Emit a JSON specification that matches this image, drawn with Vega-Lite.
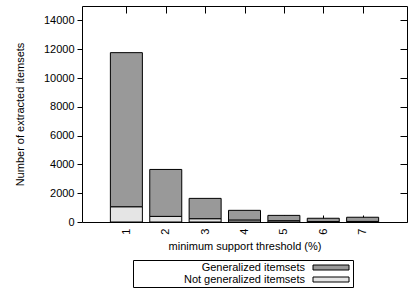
{
  "$schema": "https://vega.github.io/schema/vega-lite/v6.json",
  "width": 325,
  "height": 216,
  "autosize": "none",
  "padding": {"left": 82, "top": 6, "right": 4, "bottom": 74},
  "background": "white",
  "config": {
    "font": "Liberation Sans",
    "view": {"stroke": "black", "strokeWidth": 1},
    "axis": {"domain": false, "grid": false, "labelFont": "Liberation Sans", "labelFontSize": 11, "labelColor": "black", "tickColor": "black", "titleFont": "Liberation Sans", "titleFontSize": 11, "titleFontWeight": "normal", "titleColor": "black"}
  },
  "data": {
    "values": [
      {"t": 1, "series": "Not generalized itemsets", "value": 1060},
      {"t": 1, "series": "Generalized itemsets", "value": 10700},
      {"t": 2, "series": "Not generalized itemsets", "value": 390},
      {"t": 2, "series": "Generalized itemsets", "value": 3260},
      {"t": 3, "series": "Not generalized itemsets", "value": 230},
      {"t": 3, "series": "Generalized itemsets", "value": 1410},
      {"t": 4, "series": "Not generalized itemsets", "value": 140},
      {"t": 4, "series": "Generalized itemsets", "value": 670},
      {"t": 5, "series": "Not generalized itemsets", "value": 90},
      {"t": 5, "series": "Generalized itemsets", "value": 370},
      {"t": 6, "series": "Not generalized itemsets", "value": 30},
      {"t": 6, "series": "Generalized itemsets", "value": 230},
      {"t": 7, "series": "Not generalized itemsets", "value": 40},
      {"t": 7, "series": "Generalized itemsets", "value": 290}
    ]
  },
  "layer": [
    {
      "mark": {"type": "bar", "width": 32, "stroke": "black", "strokeWidth": 1},
      "encoding": {
        "x": {"field": "t", "type": "quantitative", "scale": {"domain": [0, 8], "nice": false, "zero": false},
          "axis": {"orient": "bottom", "values": [1, 2, 3, 4, 5, 6, 7], "format": "d", "tickSize": -7, "labelAngle": -90, "labelAlign": "right", "labelBaseline": "middle", "labelPadding": 13, "title": "minimum support threshold (%)", "titlePadding": 6}},
        "y": {"field": "value", "type": "quantitative", "stack": "zero", "scale": {"domain": [0, 15000], "nice": false},
          "axis": {"orient": "left", "values": [0, 2000, 4000, 6000, 8000, 10000, 12000, 14000], "format": "d", "tickSize": 5, "labelPadding": 3, "title": "Number of extracted itemsets", "titlePadding": 18}},
        "color": {"field": "series", "type": "nominal",
          "scale": {"domain": ["Generalized itemsets", "Not generalized itemsets"], "range": ["#999999", "#e5e5e5"]},
          "legend": {"orient": "none", "legendX": 51, "legendY": 254, "title": "\u2002", "titleOrient": "right", "titlePadding": 0, "titleFontSize": 11, "direction": "vertical",
            "strokeColor": "black", "padding": 2, "fillColor": "white",
            "symbolType": "M-3.6,-0.5H3.6V0.5H-3.6Z", "symbolSize": 100, "symbolStrokeColor": "black", "symbolStrokeWidth": 1, "symbolOffset": 190.5,
            "labelAlign": "right", "labelOffset": -31.5, "labelFontSize": 11, "labelFont": "Liberation Sans", "labelColor": "black", "rowPadding": 0}},
        "order": {"field": "series", "sort": "descending"}
      }
    },
    {
      "mark": {"type": "point", "opacity": 0},
      "encoding": {
        "x": {"field": "t", "type": "quantitative", "scale": {"domain": [0, 8], "nice": false, "zero": false},
          "axis": {"orient": "top", "values": [1, 2, 3, 4, 5, 6, 7], "tickSize": -7, "labels": false, "title": null}},
        "y": {"field": "value", "type": "quantitative", "scale": {"domain": [0, 15000], "nice": false},
          "axis": {"orient": "right", "values": [0, 2000, 4000, 6000, 8000, 10000, 12000, 14000], "tickSize": -7, "labels": false, "title": null}}
      }
    }
  ],
  "resolve": {"axis": {"x": "independent", "y": "independent"}}
}
